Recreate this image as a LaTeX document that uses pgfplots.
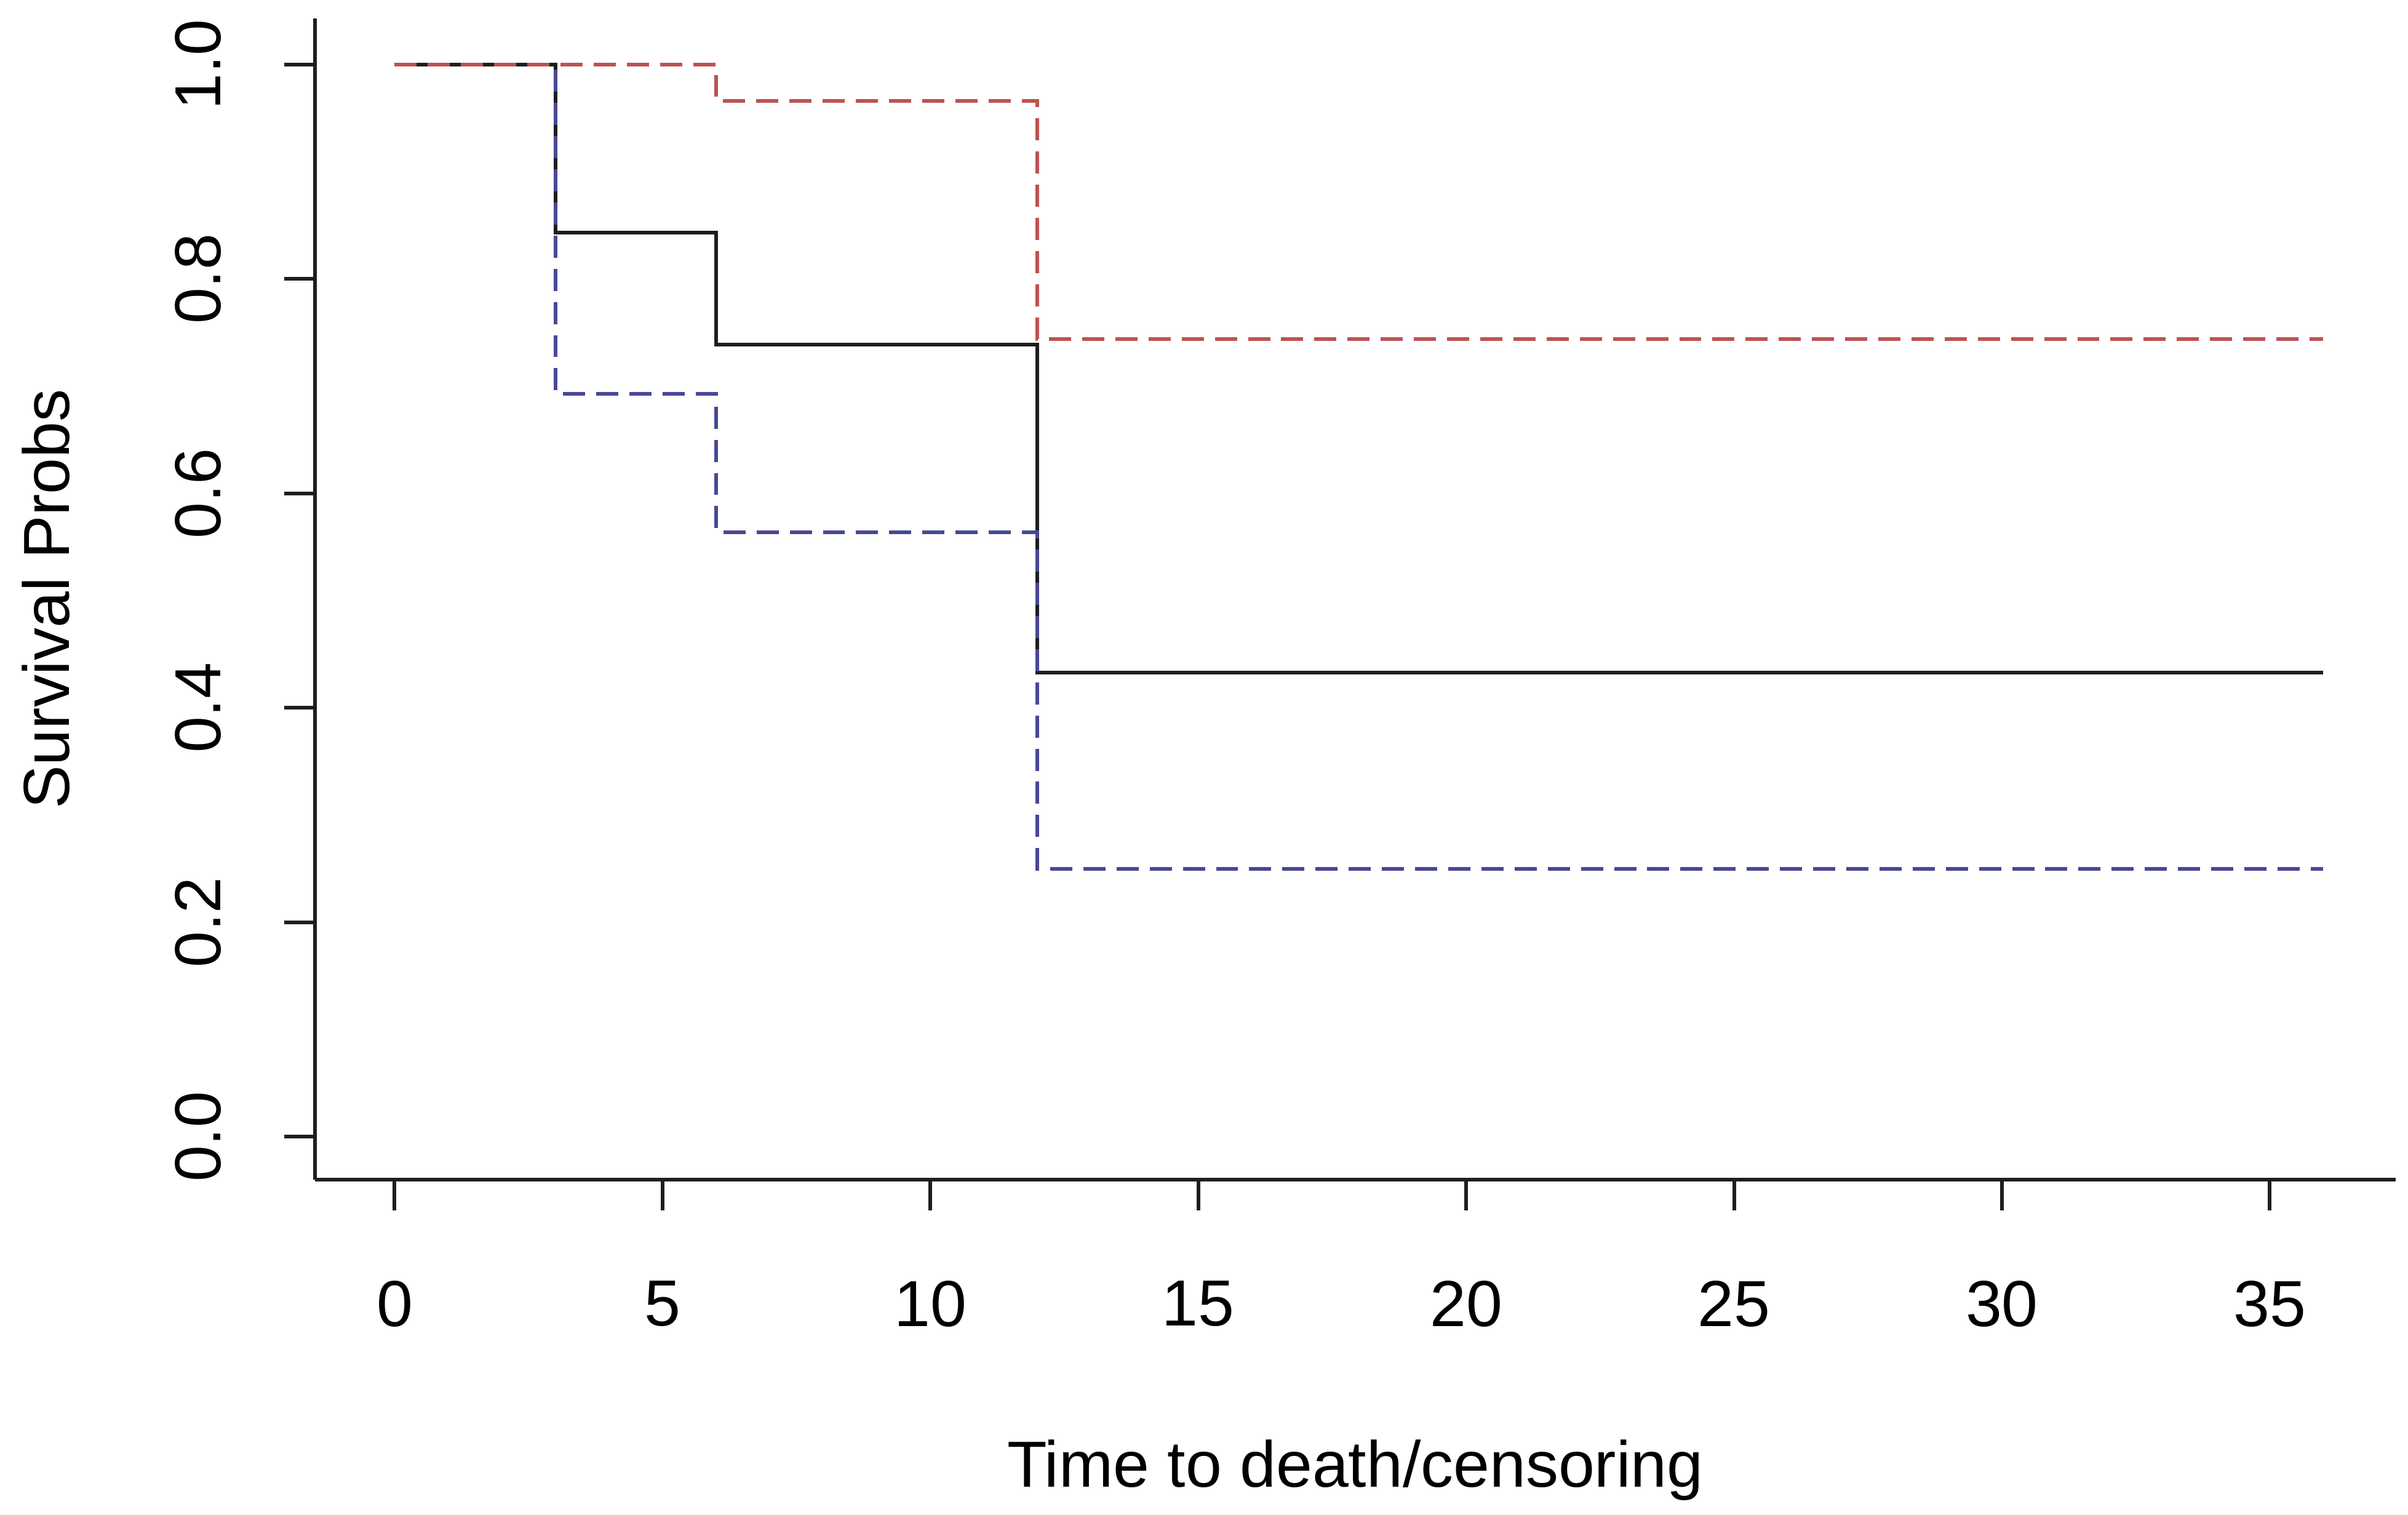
\documentclass[border=0pt]{standalone}
\usepackage{fontspec}
\setmainfont{Liberation Sans}
\usepackage{pgfplots}
\pgfplotsset{compat=1.18}
\definecolor{kmred}{RGB}{190,82,82}
\definecolor{kmblue}{RGB}{72,72,150}
\definecolor{kmblack}{RGB}{30,30,30}
\begin{document}
\begin{tikzpicture}[font=\fontsize{10.6pt}{12.7pt}\selectfont]
\begin{axis}[name=ax,
  scale only axis, width=338.75pt, height=189pt,
  xmin=-1.49, xmax=37.35, ymin=-0.04, ymax=1.043,
  axis x line=bottom, axis y line=left,
  axis line style={-, kmblack, line width=0.6pt},
  tick align=outside, major tick length=5pt,
  tick style={kmblack, line width=0.6pt},
  xtick={0,5,10,15,20,25,30,35},
  ytick={0,0.2,0.4,0.6,0.8,1},
  /pgf/number format/assume math mode=true,
  yticklabel style={/pgf/number format/fixed, /pgf/number format/fixed zerofill, /pgf/number format/precision=1, rotate=90, anchor=south, inner sep=0pt},
  xticklabel style={anchor=north, inner sep=0pt},
  xticklabel shift=11.25pt,
  yticklabel shift=10pt,
  xlabel={Time to death/censoring},
  ylabel={Survival Probs},
  every axis x label/.style={at={(axis description cs:0.5,-0.2646)}, anchor=base, inner sep=0pt},
  every axis y label/.style={at={(axis description cs:-0.1181,0.5)}, rotate=90, anchor=base, inner sep=0pt},
  clip=false,
]
\addplot[const plot, kmblack, line width=0.6pt] coordinates {(0,1) (3,0.843) (6,0.739) (12,0.433) (36,0.433)};
\addplot[const plot, kmblue, line width=0.6pt, dash pattern=on 3.6pt off 1.8pt] coordinates {(0,1) (3,0.693) (6,0.564) (12,0.250) (36,0.250)};
\addplot[const plot, kmred, line width=0.6pt, dash pattern=on 3.6pt off 1.8pt] coordinates {(0,1) (6,0.966) (12,0.744) (36,0.744)};
\end{axis}
\pgfresetboundingbox
\path ([shift={(-51.25pt,-54.5pt)}]ax.south west) rectangle ([shift={(2pt,3pt)}]ax.north east);
\end{tikzpicture}
\end{document}
